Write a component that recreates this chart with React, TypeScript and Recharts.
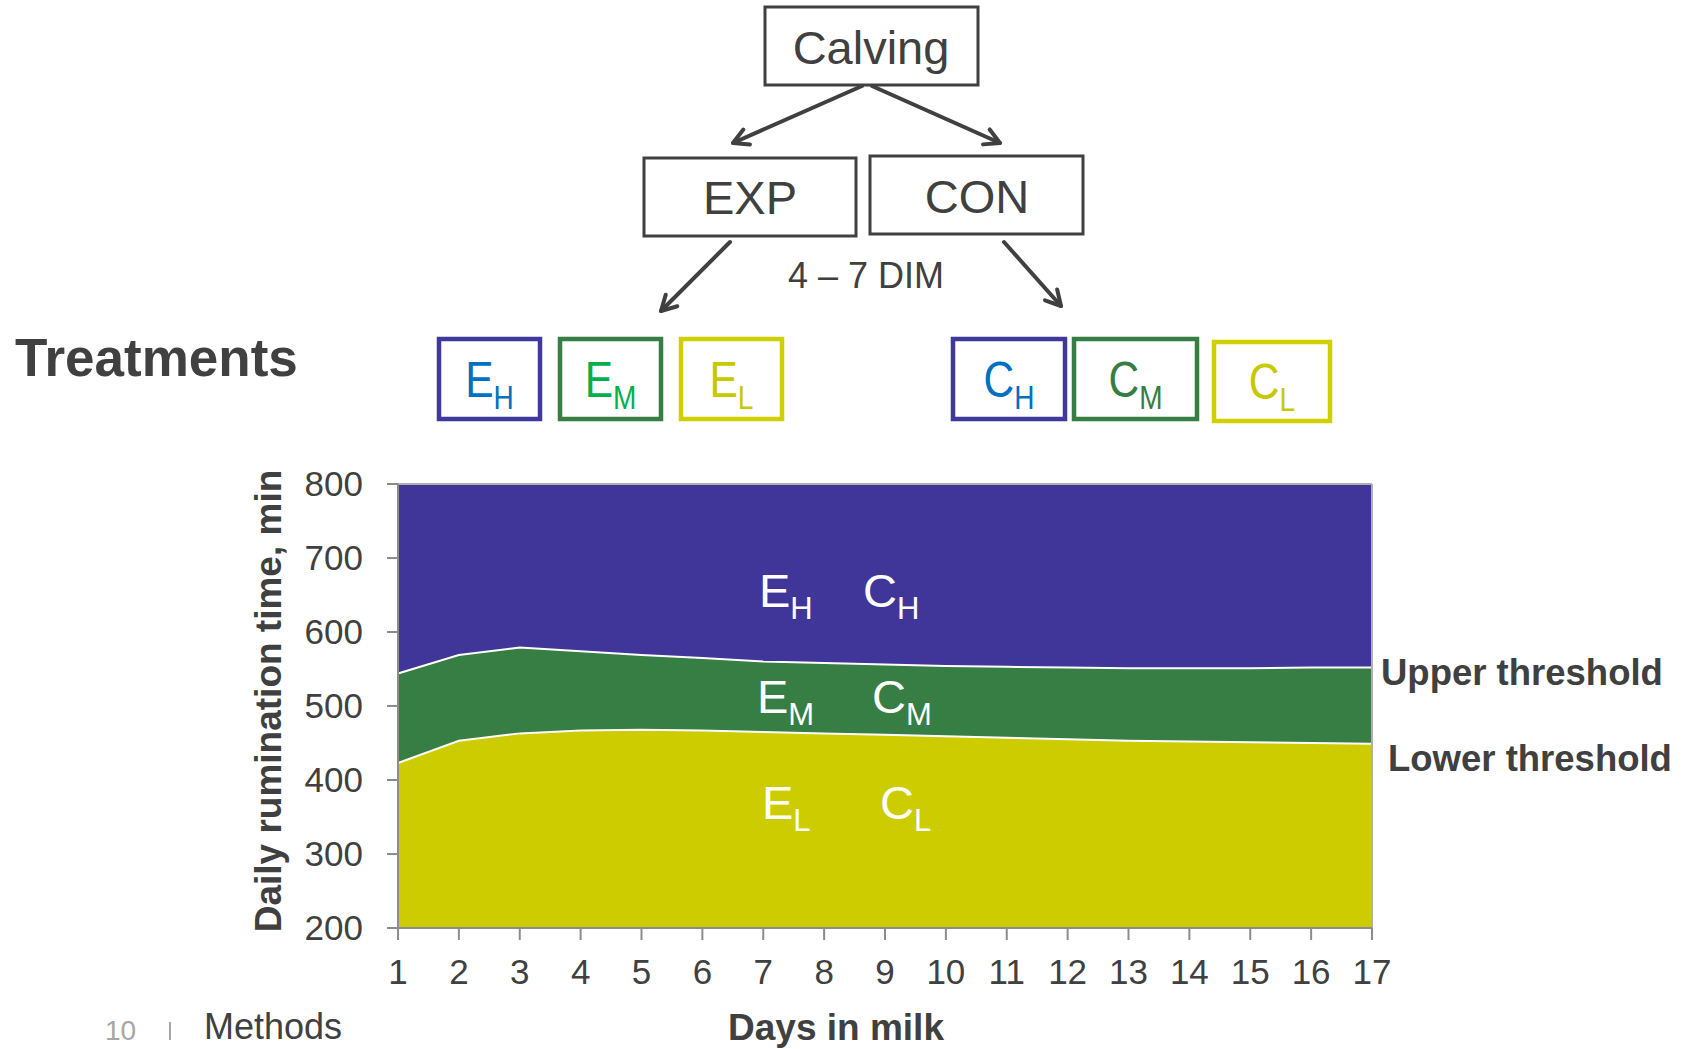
import React from 'react';
import { AreaChart, Area, XAxis, YAxis, ReferenceLine } from 'recharts';

// days in milk and the two rumination thresholds (min/day)
const days = [1, 2, 3, 4, 5, 6, 7, 8, 9, 10, 11, 12, 13, 14, 15, 16, 17];
const upperThreshold = [544, 569, 579, 574, 569, 565, 560, 558, 556, 554, 553, 552, 551, 551, 551, 552, 552];
const lowerThreshold = [423, 453, 463, 467, 468, 467, 465, 463, 461, 459, 457, 455, 453, 452, 451, 450, 449];
const yTicks = [200, 300, 400, 500, 600, 700, 800];
const yMin = 200;
const yMax = 800;

const BLUE = '#40369A';
const GREEN = '#367E43';
const YELLOW = '#CCCC00';
const INK = '#404040';
const AXIS = '#8c8c8c';
const FONT = 'Arial, "Liberation Sans", sans-serif';

const rows = days.map((day, i) => ({
  day,
  low: [yMin, lowerThreshold[i]],
  mid: [lowerThreshold[i], upperThreshold[i]],
  high: [upperThreshold[i], yMax],
}));

function Arrow({ x1, y1, x2, y2 }: { x1: number; y1: number; x2: number; y2: number }) {
  const a = Math.atan2(y2 - y1, x2 - x1);
  const len = 17;
  const spread = 0.5;
  const hx1 = x2 - len * Math.cos(a - spread);
  const hy1 = y2 - len * Math.sin(a - spread);
  const hx2 = x2 - len * Math.cos(a + spread);
  const hy2 = y2 - len * Math.sin(a + spread);
  return (
    <g stroke={INK} strokeWidth={4} fill="none" strokeLinecap="round" strokeLinejoin="round">
      <line x1={x1} y1={y1} x2={x2} y2={y2} />
      <polyline points={`${hx1},${hy1} ${x2},${y2} ${hx2},${hy2}`} />
    </g>
  );
}

function Sub({ x, y, main, sub, color, size = 47, subSize = 31, drop = 12, anchor = 'start', sx = 1 }: any) {
  return (
    <text
      transform={`translate(${x},${y}) scale(${sx},1)`}
      fill={color}
      fontFamily={FONT}
      fontSize={size}
      textAnchor={anchor}
    >
      <tspan>{main}</tspan>
      <tspan fontSize={subSize} dy={drop}>{sub}</tspan>
    </text>
  );
}

function TreatBox({ x1, x2, y1, y2, border, main, sub, color }: any) {
  return (
    <g>
      <rect x={x1} y={y1} width={x2 - x1} height={y2 - y1} fill="#fff" stroke={border} strokeWidth={4.5} />
      <Sub x={(x1 + x2) / 2} y={y2 - 22} main={main} sub={sub} color={color} size={50} subSize={33} drop={12} anchor="middle" sx={0.85} />
    </g>
  );
}

function FlowBox({ x1, x2, y1, y2, label, tx, ty }: any) {
  return (
    <g>
      <rect x={x1} y={y1} width={x2 - x1} height={y2 - y1} fill="#fff" stroke={INK} strokeWidth={3} />
      <text x={tx} y={ty} textAnchor="middle" fontFamily={FONT} fontSize={47} fill={INK}>{label}</text>
    </g>
  );
}

export default function App() {
  return (
    <div style={{ position: 'absolute', left: 0, top: 0, width: 1683, height: 1049, background: '#fff', overflow: 'hidden' }}>
      <AreaChart
        width={1683}
        height={1049}
        data={rows}
        margin={{ top: 484, right: 311, bottom: 61, left: 0 }}
        style={{ position: 'absolute', left: 0, top: 0 }}
      >
        <XAxis
          dataKey="day"
          type="number"
          domain={[1, 17]}
          ticks={days}
          interval={0}
          height={60}
          tickSize={12}
          tickMargin={19}
          axisLine={{ stroke: AXIS, strokeWidth: 2 }}
          tickLine={{ stroke: AXIS, strokeWidth: 2 }}
          tick={{ fill: INK, fontSize: 35, fontFamily: FONT }}
        />
        <YAxis
          type="number"
          domain={[yMin, yMax]}
          ticks={yTicks}
          interval={0}
          width={398}
          tickSize={11}
          tickMargin={24}
          axisLine={{ stroke: AXIS, strokeWidth: 2 }}
          tickLine={{ stroke: AXIS, strokeWidth: 2 }}
          tick={{ fill: INK, fontSize: 35, fontFamily: FONT }}
        />
        <Area dataKey="high" type="linear" fill={BLUE} fillOpacity={1} stroke="none" isAnimationActive={false} />
        <Area dataKey="low" type="linear" fill={YELLOW} fillOpacity={1} stroke="none" isAnimationActive={false} />
        <Area dataKey="mid" type="linear" fill={GREEN} fillOpacity={1} stroke="#ffffff" strokeWidth={2} isAnimationActive={false} />
        <ReferenceLine y={yMax} stroke="#b0b0b0" strokeWidth={2} />
        <ReferenceLine x={17} stroke="#b0b0b0" strokeWidth={2} />
      </AreaChart>

      <svg width={1683} height={1049} style={{ position: 'absolute', left: 0, top: 0, pointerEvents: 'none' }}>
        {/* flow chart */}
        <FlowBox x1={765} x2={978} y1={7} y2={85} label="Calving" tx={871} ty={64} />
        <FlowBox x1={644} x2={856} y1={158} y2={236} label="EXP" tx={750} ty={214} />
        <FlowBox x1={870} x2={1083} y1={156} y2={234} label="CON" tx={977} ty={213} />
        <Arrow x1={862} y1={86} x2={733} y2={143} />
        <Arrow x1={872} y1={86} x2={1000} y2={143} />
        <Arrow x1={730} y1={242} x2={661} y2={311} />
        <Arrow x1={1004} y1={242} x2={1061} y2={306} />
        <text x={866} y={288} textAnchor="middle" fontFamily={FONT} fontSize={36} fill={INK}>4 – 7 DIM</text>

        {/* treatments */}
        <text x={15} y={376} fontFamily={FONT} fontWeight="bold" fontSize={53} fill={INK}>Treatments</text>
        <TreatBox x1={439} x2={540} y1={339} y2={419} border="#41389B" main="E" sub="H" color="#0070C0" />
        <TreatBox x1={560} x2={661} y1={339} y2={419} border="#367E43" main="E" sub="M" color="#00B050" />
        <TreatBox x1={681} x2={782} y1={339} y2={419} border="#D0D000" main="E" sub="L" color="#C8C800" />
        <TreatBox x1={953} x2={1065} y1={339} y2={419} border="#41389B" main="C" sub="H" color="#0070C0" />
        <TreatBox x1={1074} x2={1197} y1={339} y2={419} border="#367E43" main="C" sub="M" color="#367E43" />
        <TreatBox x1={1214} x2={1330} y1={342} y2={421} border="#D0D000" main="C" sub="L" color="#C8C800" />

        {/* in-plot labels */}
        <Sub x={759} y={607} main="E" sub="H" color="#fff" />
        <Sub x={863} y={607} main="C" sub="H" color="#fff" />
        <Sub x={757} y={713} main="E" sub="M" color="#fff" />
        <Sub x={872} y={713} main="C" sub="M" color="#fff" />
        <Sub x={762} y={819} main="E" sub="L" color="#fff" />
        <Sub x={880} y={819} main="C" sub="L" color="#fff" />

        {/* threshold labels */}
        <text x={1381} y={685} fontFamily={FONT} fontWeight="bold" fontSize={36.5} fill={INK}>Upper threshold</text>
        <text x={1388} y={771} fontFamily={FONT} fontWeight="bold" fontSize={36.5} fill={INK}>Lower threshold</text>

        {/* axis titles */}
        <text
          transform="translate(281,701) rotate(-90)"
          textAnchor="middle"
          fontFamily={FONT}
          fontWeight="bold"
          fontSize={37}
          fill={INK}
        >
          Daily rumination time, min
        </text>
        <text x={836} y={1040} textAnchor="middle" fontFamily={FONT} fontWeight="bold" fontSize={37} fill={INK}>Days in milk</text>

        {/* slide footer */}
        <text x={105} y={1040} fontFamily={FONT} fontSize={28} fill="#a6a6a6">10</text>
        <line x1={170} y1={1022} x2={170} y2={1040} stroke="#a6a6a6" strokeWidth={2} />
        <text x={204} y={1039} fontFamily={FONT} fontSize={36} fill={INK}>Methods</text>
      </svg>
    </div>
  );
}
